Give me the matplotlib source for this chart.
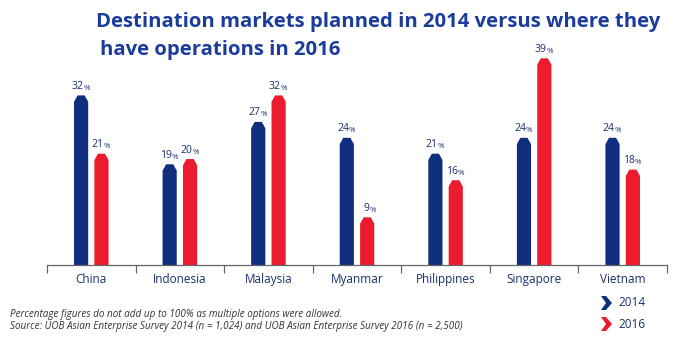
import matplotlib.pyplot as plt
from matplotlib.patches import Polygon

# data
markets = ["China", "Indonesia", "Malaysia", "Myanmar", "Philippines", "Singapore", "Vietnam"]
pct_2014 = [32, 19, 27, 24, 21, 24, 24]
pct_2016 = [21, 20, 32, 9, 16, 39, 18]
series_names = ["2014", "2016"]

navy = "#0f2f7e"
red = "#ec1c2e"
txt = "#1b2f6e"

plt.rcParams['font.family'] = ['Open Sans', 'DejaVu Sans']

fig = plt.figure(figsize=(6.8, 3.42), dpi=100)
ax = fig.add_axes([47 / 680, 1 - 265 / 342, 620 / 680, 42 * 5.3 / 342])

w = 0.16
off = 0.115
cap = 1.2


def draw_bars(xs, vals, color):
    # bar with a pointed top, one polygon per bar
    for x, v in zip(xs, vals):
        l, r = x - w / 2, x + w / 2
        ax.fill([l, l, l + 0.04, r - 0.04, r, r],
                [0, v - cap, v, v, v - cap, 0], color=color, linewidth=0)
        ax.annotate(f"{v}", (x, v), xytext=(1.5, 2.5), textcoords="offset points",
                    ha="right", va="bottom", fontsize=7.5, color=txt)
        ax.annotate("%", (x, v), xytext=(1.5, 2.5), textcoords="offset points",
                    ha="left", va="bottom", fontsize=5.8, color=txt)


xs = list(range(len(markets)))
draw_bars([x - off for x in xs], pct_2014, navy)
draw_bars([x + off for x in xs], pct_2016, red)

ax.set_xlim(-0.5, len(markets) - 0.5)
ax.set_ylim(0, 42)
for s in ["top", "right", "left"]:
    ax.spines[s].set_visible(False)
ax.spines["bottom"].set_color("#666666")
ax.spines["bottom"].set_linewidth(0.9)
ax.set_yticks([])
ax.set_xticks([x - 0.5 for x in range(len(markets) + 1)])
ax.set_xticklabels([])
ax.tick_params(axis="x", length=6, width=0.9, color="#666666", direction="out")
for x, m in zip(xs, markets):
    ax.text(x, -1.6, m, ha="center", va="top", fontsize=8.5, color=txt)

fig.text(96 / 680, 1 - 22 / 342, "Destination markets planned in 2014 versus where they",
         ha="left", va="center", fontsize=14.6, fontweight="bold", color="#1c3c9c")
fig.text(100 / 680, 1 - 50 / 342, "have operations in 2016",
         ha="left", va="center", fontsize=14.6, fontweight="bold", color="#1c3c9c")

fig.text(10 / 680, 1 - 314 / 342, "Percentage figures do not add up to 100% as multiple options were allowed.",
         ha="left", va="center", fontsize=7.1, style="italic", color="#333333")
fig.text(10 / 680, 1 - 327 / 342,
         "Source: UOB Asian Enterprise Survey 2014 (n = 1,024) and UOB Asian Enterprise Survey 2016 (n = 2,500)",
         ha="left", va="center", fontsize=7.1, style="italic", color="#333333")

# legend chevrons
for i, (name, c) in enumerate(zip(series_names, [navy, red])):
    yc = 303 + i * 21
    x0, x1, h = 601, 612, 7
    pts = [(x0, yc - h), (x0 + 5, yc - h), (x1, yc), (x0 + 5, yc + h), (x0, yc + h), (x0 + 5, yc)]
    pts = [(px / 680, 1 - py / 342) for px, py in pts]
    fig.patches.append(Polygon(pts, closed=True, transform=fig.transFigure, color=c, lw=0))
    fig.text(618 / 680, 1 - yc / 342, name, ha="left", va="center", fontsize=8.5, color=txt)

fig.savefig("out.png", dpi=100)
